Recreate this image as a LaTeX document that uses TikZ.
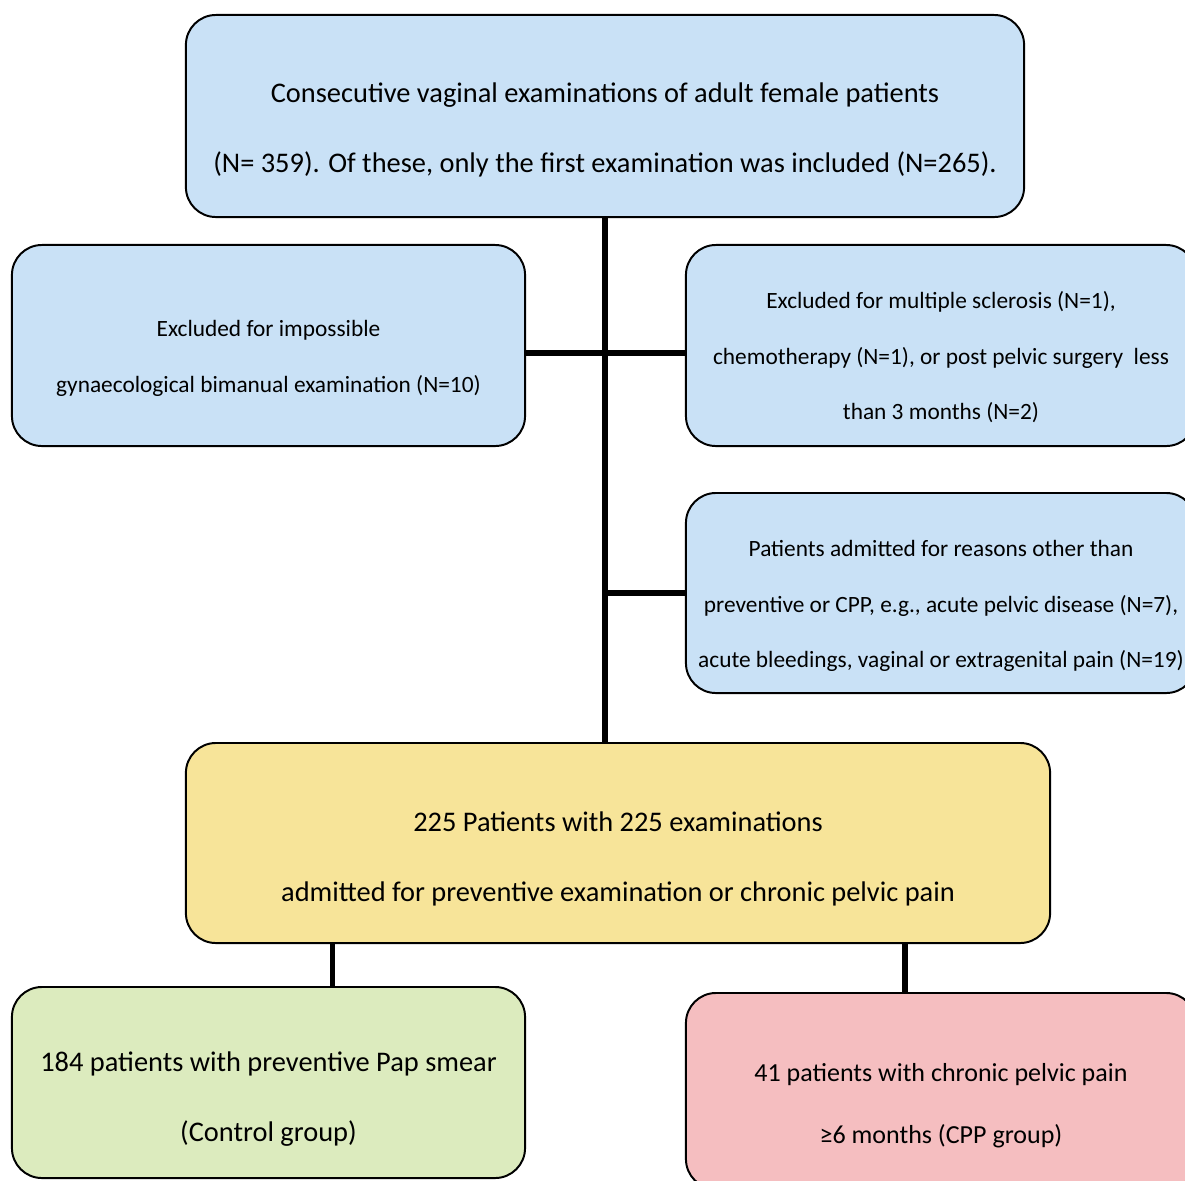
\documentclass[tikz,border=0pt]{standalone}
\usepackage{fontspec}
\setmainfont{Carlito}
\definecolor{boxblue}{RGB}{201,225,246}
\definecolor{boxyellow}{RGB}{247,228,153}
\definecolor{boxgreen}{RGB}{220,235,190}
\definecolor{boxpink}{RGB}{245,190,192}
\usetikzlibrary{positioning}
\tikzset{
  flowbox/.style={draw=black, line width=1.4pt, rounded corners=0.75cm, inner sep=0pt},
  bigtext/.style={align=center, font=\fontsize{20.2}{49.8}\selectfont},
  midtext/.style={align=center, font=\fontsize{18.5}{44}\selectfont},
  smalltext/.style={align=center, font=\fontsize{16.6}{39.4}\selectfont},
  link/.style={line width=3.8pt}
}

\begin{document}
\begin{tikzpicture}[x=0.025cm, y=-0.025cm]
\useasboundingbox (0,0) rectangle (1185,1180);
\clip (0,0) rectangle (1185,1180);

% Top box
\node[flowbox, fill=boxblue, minimum width=20.95cm, minimum height=5.05cm,
  label={[bigtext, yshift=-0.35cm]center:{Consecutive vaginal examinations of adult female patients\\
  (N= 359). Of these, only the first examination was included (N=265).}}]
  (exams) at (605,116) {};

% Exclusions
\node[flowbox, fill=boxblue, minimum width=12.825cm, minimum height=5.025cm,
  label={[smalltext, yshift=-0.325cm]center:{Excluded for impossible\\
  gynaecological bimanual examination (N=10)}}]
  (ex1) at (268.5,345.5) {};
\node[flowbox, fill=boxblue, minimum width=12.75cm, minimum height=5.025cm,
  label={[smalltext, yshift=-0.29cm]center:{Excluded for multiple sclerosis (N=1),\\
  chemotherapy (N=1), or post pelvic surgery~~less\\
  than 3 months (N=2)}}]
  (ex2) at (941,345.5) {};
\node[flowbox, fill=boxblue, minimum width=12.75cm, minimum height=5cm,
  label={[smalltext, yshift=-0.325cm]center:{Patients admitted for reasons other than\\
  preventive or CPP, e.g., acute pelvic disease (N=7),\\
  acute bleedings, vaginal or extragenital pain (N=19)}}]
  (ex3) at (941,593) {};

% Included patients
\node[flowbox, fill=boxyellow, minimum width=21.6cm, minimum height=5cm,
  label={[bigtext, yshift=-0.4cm]center:{225 Patients with 225 examinations\\
  admitted for preventive examination or chronic pelvic pain}}]
  (incl) at (618,843) {};

% Groups
\node[flowbox, fill=boxgreen, minimum width=12.825cm, minimum height=4.775cm,
  label={[bigtext, yshift=-0.425cm]center:{184 patients with preventive Pap smear\\
  (Control group)}}]
  (ctrl) at (268.5,1082.5) {};
\node[flowbox, fill=boxpink, minimum width=12.75cm, minimum height=4.9cm,
  label={[midtext, yshift=-0.365cm]center:{41 patients with chronic pelvic pain\\
  ≥6 months (CPP group)}}]
  (cpp) at (941,1091) {};

% Connectors
\draw[link] (exams.south) -- (exams.south |- incl.north);
\draw[link] ([yshift=-0.19cm]ex1.east) -- ([yshift=-0.19cm]ex2.west);
\draw[link] (exams.south |- ex3.west) -- (ex3.west);
\draw[link] ([xshift=1.6cm]ctrl.north) -- ([xshift=1.6cm]ctrl.north |- incl.south);
\draw[link] ([xshift=-0.9cm]cpp.north) -- ([xshift=-0.9cm]cpp.north |- incl.south);

\end{tikzpicture}
\end{document}
